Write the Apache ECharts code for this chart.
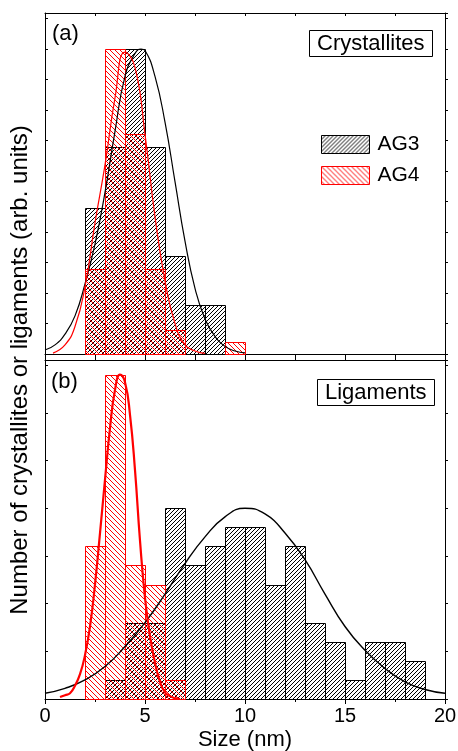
<!DOCTYPE html>
<html>
<head>
<meta charset="utf-8">
<title>Crystallites and ligaments size distribution</title>
<script src="https://cdn.jsdelivr.net/npm/echarts@6/dist/echarts.min.js"></script>
<style>
  html, body { margin: 0; padding: 0; background: #fff; }
  #chart { width: 458px; height: 751px; }
</style>
</head>
<body>
<div id="chart"></div>
<script>
// (a) crystallites, histogram bins are 1 nm wide, values in arb. units
const crystAG3Bins = [2, 3, 4, 5, 6, 7, 8];
const crystAG3Values = [4.8, 6.8, 10, 6.8, 3.2, 1.6, 1.6];
const crystAG4Bins = [2, 3, 4, 5, 6, 9];
const crystAG4Values = [2.8, 10, 7.2, 2.8, 0.8, 0.4];

// fitted curves
const crystAG3FitX = [0, 0.5, 1, 1.5, 2, 2.5, 3, 3.5, 4, 4.5, 4.8, 5, 5.5, 6, 6.5, 7, 7.5, 8, 8.5, 9, 9.5, 10];
const crystAG3FitY = [0.13, 0.3, 0.65, 1.25, 2.3, 3.6, 5.3, 7.3, 9.1, 9.85, 10, 9.95, 9.1, 7.6, 5.65, 3.7, 2.15, 1.15, 0.58, 0.25, 0.1, 0.04];
const crystAG4FitX = [0.4, 1, 1.5, 2, 2.5, 3, 3.5, 4, 4.5, 5, 5.5, 6, 6.5, 7, 7.5, 8];
const crystAG4FitY = [0.03, 0.3, 0.9, 2.2, 4.3, 6.2, 8.4, 9.9, 9.4, 7.2, 4.5, 2.4, 1.0, 0.3, 0.1, 0.02];

// (b) ligaments, counts per 1 nm bin
const ligAG3Bins = [3, 4, 5, 6, 7, 8, 9, 10, 11, 12, 13, 14, 15, 16, 17, 18];
const ligAG3Values = [1, 4, 4, 10, 7, 8, 9, 9, 6, 8, 4, 3, 1, 3, 3, 2];
const ligAG4Bins = [2, 3, 4, 5, 6];
const ligAG4Values = [8, 17, 7, 6, 1];

const ligAG3FitX = [0, 1, 2, 3, 4, 5, 6, 7, 8, 9, 10, 11, 12, 13, 14, 15, 16, 17, 18, 19, 20];
const ligAG3FitY = [0.3, 0.56, 1.0, 1.7, 2.75, 4.0, 5.5, 7.1, 8.5, 9.55, 10, 9.7, 8.7, 7.3, 5.5, 3.8, 2.55, 1.6, 0.9, 0.5, 0.3];
const ligAG4FitX = [0.75, 1, 1.25, 1.5, 1.75, 2, 2.25, 2.5, 2.75, 3, 3.25, 3.5, 3.75, 4, 4.25, 4.5, 4.75, 5, 5.25, 5.5, 5.75, 6, 6.25, 6.5, 6.75];
const ligAG4FitY = [0.1, 0.2, 0.3, 0.7, 1.3, 2.3, 3.8, 6.0, 8.7, 11.5, 14.2, 16.2, 17, 16.6, 14.9, 12.0, 8.3, 5.3, 3.3, 1.9, 0.9, 0.35, 0.15, 0.05, 0];

const xTicks = { min: 0, max: 20, interval: 5 };
const FONT = 'Liberation Sans, Arial, sans-serif';

function hatch(color, size, dir) {
  const c = document.createElement('canvas');
  c.width = size;
  c.height = size;
  const ctx = c.getContext('2d');
  ctx.strokeStyle = color;
  ctx.lineWidth = 1;
  ctx.beginPath();
  if (dir > 0) {
    ctx.moveTo(-1, size + 1); ctx.lineTo(size + 1, -1);
    ctx.moveTo(-1, 1); ctx.lineTo(1, -1);
    ctx.moveTo(size - 1, size + 1); ctx.lineTo(size + 1, size - 1);
  } else {
    ctx.moveTo(-1, -1); ctx.lineTo(size + 1, size + 1);
    ctx.moveTo(size - 1, -1); ctx.lineTo(size + 1, 1);
    ctx.moveTo(-1, size - 1); ctx.lineTo(1, size + 1);
  }
  ctx.stroke();
  return { image: c, repeat: 'repeat' };
}

const blackHatch = hatch('#000', 4, 1);
const redHatch = hatch('#ff0000', 5, -1);

function histSeries(name, starts, values, color, pattern, gi) {
  return {
    name: name,
    type: 'custom',
    xAxisIndex: gi * 2,
    yAxisIndex: gi * 2,
    itemStyle: { color: pattern, borderColor: color, borderWidth: 1 },
    encode: { x: [0, 1], y: 2 },
    data: starts.map((s, i) => [s, s + 1, values[i]]),
    renderItem: function (params, api) {
      const a = api.coord([api.value(0), api.value(2)]);
      const b = api.coord([api.value(1), 0]);
      const x0 = Math.round(a[0]) + 0.5, x1 = Math.round(b[0]) + 0.5;
      const y0 = Math.round(a[1]) + 0.5, y1 = Math.round(b[1]) + 0.5;
      return {
        type: 'rect',
        shape: { x: x0, y: y0, width: x1 - x0, height: y1 - y0 },
        style: { fill: pattern, stroke: color, lineWidth: 1 }
      };
    }
  };
}

function fitSeries(xs, ys, color, width, gi) {
  return {
    type: 'line',
    xAxisIndex: gi * 2,
    yAxisIndex: gi * 2,
    data: xs.map((x, i) => [x, ys[i]]),
    smooth: true,
    showSymbol: false,
    symbol: 'none',
    silent: true,
    z: 5,
    lineStyle: { color: color, width: width }
  };
}

function xAxis(gi, pos, inside, labels) {
  return Object.assign({
    gridIndex: gi,
    type: 'value',
    position: pos,
    axisLine: { show: true, onZero: false, lineStyle: { color: '#000', width: 1 } },
    axisTick: { show: true, inside: inside, length: inside ? 3 : 5, lineStyle: { color: '#000' } },
    minorTick: { show: true, splitNumber: 2, length: 3, lineStyle: { color: '#000' } },
    axisLabel: { show: labels, fontSize: 20, color: '#000', fontFamily: FONT, margin: 7 },
    splitLine: { show: false }
  }, xTicks);
}

function yAxis(gi, pos, max, interval) {
  return {
    gridIndex: gi,
    type: 'value',
    position: pos,
    min: 0,
    max: max,
    interval: interval,
    axisLine: { show: true, onZero: false, lineStyle: { color: '#000', width: 1 } },
    axisTick: { show: true, inside: pos === 'left', length: 3, lineStyle: { color: '#000' } },
    axisLabel: { show: false },
    splitLine: { show: false }
  };
}

const boxText = { fontSize: 22, fontWeight: 'normal', color: '#000', fontFamily: FONT, lineHeight: 23 };

const option = {
  backgroundColor: '#fff',
  animation: false,
  grid: [
    { left: 45, right: 13, top: 13, height: 341, outerBoundsMode: 'none' },
    { left: 45, right: 13, top: 360, height: 339, outerBoundsMode: 'none' }
  ],
  title: [
    { text: '(a)', left: 52, top: 22, padding: 0, textStyle: boxText },
    { text: '(b)', left: 51, top: 370, padding: 0, textStyle: boxText },
    { text: 'Crystallites', left: 309, top: 30, padding: [2, 8], borderWidth: 1, borderColor: '#000', textStyle: boxText },
    { text: 'Ligaments', left: 317, top: 379, padding: [2, 8], borderWidth: 1, borderColor: '#000', textStyle: boxText }
  ],
  legend: {
    left: 321,
    top: 134,
    orient: 'vertical',
    padding: 0,
    itemWidth: 48,
    itemHeight: 18,
    itemGap: 10,
    icon: 'rect',
    selectedMode: false,
    textStyle: { fontSize: 21, color: '#000', fontFamily: FONT, padding: [0, 0, 0, 3] },
    data: [
      { name: 'AG3', itemStyle: { color: blackHatch, borderColor: '#000', borderWidth: 1 } },
      { name: 'AG4', itemStyle: { color: redHatch, borderColor: '#ff0000', borderWidth: 1 } }
    ]
  },
  xAxis: [
    xAxis(0, 'bottom', false, false),
    xAxis(0, 'top', true, false),
    Object.assign(xAxis(1, 'bottom', false, true), {
      name: 'Size (nm)',
      nameLocation: 'middle',
      nameGap: 30,
      nameTextStyle: { fontSize: 22, color: '#000', fontFamily: FONT }
    }),
    xAxis(1, 'top', false, false)
  ],
  yAxis: [
    yAxis(0, 'left', 11.18, 1),
    yAxis(0, 'right', 11.18, 1),
    yAxis(1, 'left', 17.77, 2.5),
    yAxis(1, 'right', 17.77, 2.5)
  ],
  graphic: [{
    type: 'text',
    x: 20,
    y: 370,
    rotation: Math.PI / 2,
    silent: true,
    style: {
      text: 'Number of crystallites or ligaments (arb. units)',
      font: '24px ' + FONT,
      fill: '#000',
      align: 'center',
      verticalAlign: 'middle',
      textAlign: 'center',
      textVerticalAlign: 'middle'
    }
  }],
  series: [
    histSeries('AG3', crystAG3Bins, crystAG3Values, '#000', blackHatch, 0),
    histSeries('AG4', crystAG4Bins, crystAG4Values, '#ff0000', redHatch, 0),
    histSeries('AG3', ligAG3Bins, ligAG3Values, '#000', blackHatch, 1),
    histSeries('AG4', ligAG4Bins, ligAG4Values, '#ff0000', redHatch, 1),
    fitSeries(crystAG3FitX, crystAG3FitY, '#000', 1.2, 0),
    fitSeries(crystAG4FitX, crystAG4FitY, '#ff0000', 1.2, 0),
    fitSeries(ligAG3FitX, ligAG3FitY, '#000', 1.4, 1),
    fitSeries(ligAG4FitX, ligAG4FitY, '#ff0000', 2.2, 1)
  ]
};

const chart = echarts.init(document.getElementById('chart'));
chart.setOption(option);
</script>
</body>
</html>
